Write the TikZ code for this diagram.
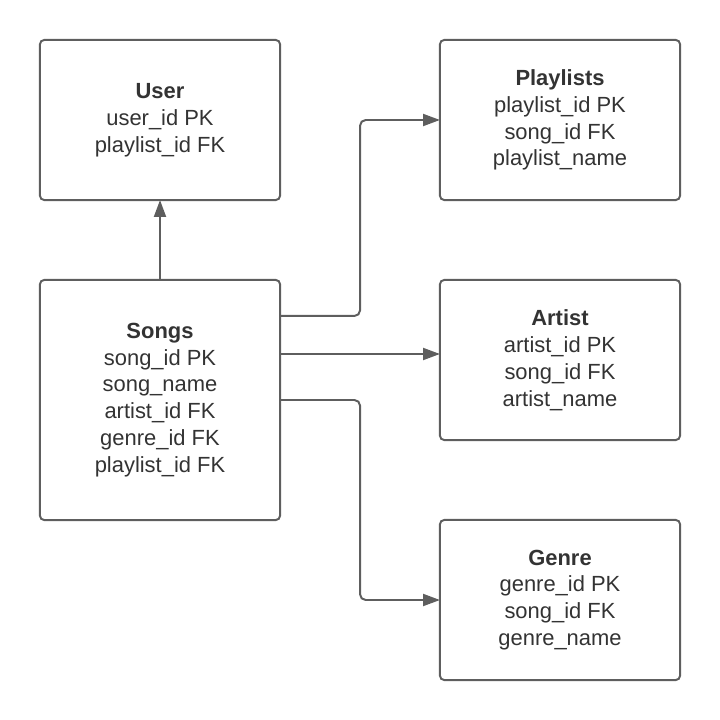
\documentclass[tikz,border=0pt]{standalone}
\usepackage{fontspec}
\setmainfont{Liberation Sans}
\usetikzlibrary{arrows.meta}
\definecolor{linegray}{HTML}{5E5E5E}
\definecolor{textgray}{HTML}{333333}
\tikzset{
  table/.style={draw=linegray, line width=1.4pt, rounded corners=3pt, fill=white,
    minimum width=6cm, inner sep=0pt, outer sep=0pt, align=center,
    text=textgray, font=\fontsize{15.6}{19.1}\selectfont},
  link/.style={-{Triangle[length=12pt,width=8.5pt]}, draw=linegray, line width=1.4pt, rounded corners=4pt}
}
\begin{document}
\begin{tikzpicture}[x=0.025cm,y=-0.025cm]
\useasboundingbox (0,0) rectangle (720,720);
\node[table, minimum height=4cm] (user) at (160,120) {\textbf{User}\\user\_id PK\\playlist\_id FK};
\node[table, minimum height=4cm] (playlists) at (560,120) {\textbf{Playlists}\\playlist\_id PK\\song\_id FK\\playlist\_name};
\node[table, minimum height=6cm] (songs) at (160,400) {\textbf{Songs}\\song\_id PK\\song\_name\\artist\_id FK\\genre\_id FK\\playlist\_id FK};
\node[table, minimum height=4cm] (artist) at (560,360) {\textbf{Artist}\\artist\_id PK\\song\_id FK\\artist\_name};
\node[table, minimum height=4cm] (genre) at (560,600) {\textbf{Genre}\\genre\_id PK\\song\_id FK\\genre\_name};
\draw[link] (songs.north) -- (user.south);
\draw[link] ([yshift=2.1cm]songs.east) -- ++(2cm,0) |- (playlists.west);
\draw[link] ([yshift=1.15cm]songs.east) -- ([yshift=0.15cm]artist.west);
\draw[link] (songs.east) -- ++(2cm,0) |- (genre.west);
\end{tikzpicture}
\end{document}
